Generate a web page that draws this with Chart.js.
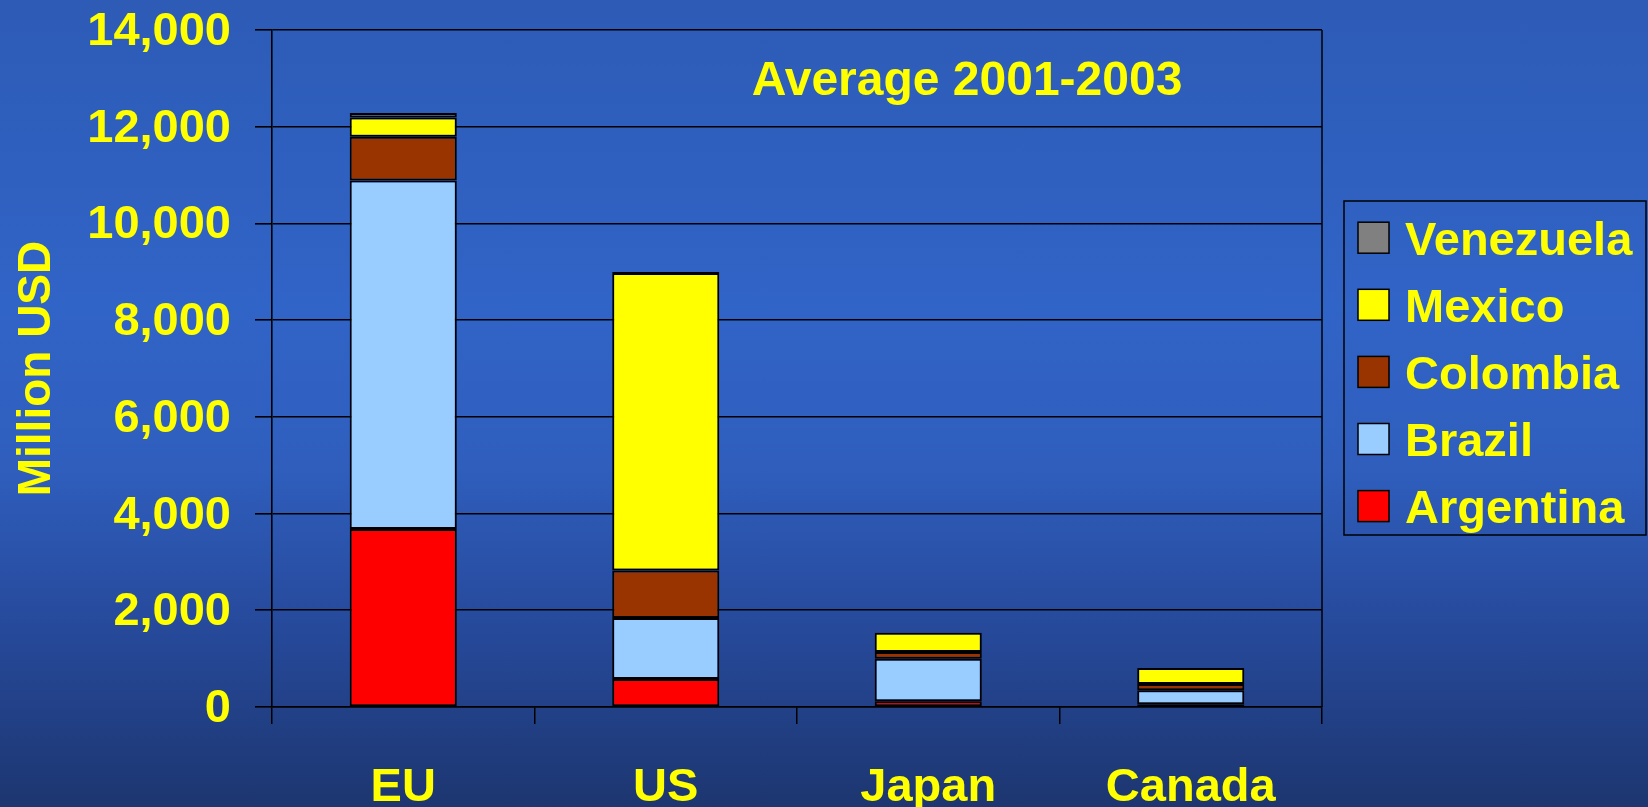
<!DOCTYPE html>
<html><head><meta charset="utf-8">
<script src="https://cdn.jsdelivr.net/npm/chart.js@4"></script>
<style>
html,body{margin:0;padding:0;width:1648px;height:807px;overflow:hidden;
background:linear-gradient(to bottom,#2D5BB6 0%,#3164C7 38%,#2F5EBD 58%,#26499A 78%,#1D3670 100%);}
canvas{display:block}
</style></head><body>
<canvas id="c" width="1648" height="807"></canvas>
<script>
const categories = ['EU', 'US', 'Japan', 'Canada'];
const argentina = [3680, 580, 120, 55];
const brazil = [7210, 1260, 880, 290];
const colombia = [900, 985, 135, 130];
const mexico = [400, 6150, 400, 330];
const venezuela = [95, 20, 0, 0];
const yTicks = [0, 2000, 4000, 6000, 8000, 10000, 12000, 14000];
const seriesNames = ['Argentina', 'Brazil', 'Colombia', 'Mexico', 'Venezuela'];
const seriesColors = ['#FF0000', '#99CCFF', '#993300', '#FFFF00', '#808080'];
const chartNote = 'Average 2001-2003';
const yAxisTitle = 'Million USD';

const FONT = "'Liberation Sans', Arial, sans-serif";
const YELLOW = '#FFFF00';
const seriesValues = [argentina, brazil, colombia, mexico, venezuela];

const datasets = seriesNames.map((name, i) => ({
  label: name,
  data: seriesValues[i],
  backgroundColor: seriesColors[i],
  borderColor: '#000',
  borderWidth: 2,
  borderSkipped: false,
  categoryPercentage: 1,
  barPercentage: 0.408
}));

const extras = {
  id: 'extras',
  beforeDatasetsDraw(chart) {
    const {ctx, chartArea: a} = chart;
    ctx.save();
    ctx.strokeStyle = '#000';
    ctx.lineWidth = 1.5;
    ctx.beginPath();
    ctx.moveTo(a.right, a.top);
    ctx.lineTo(a.right, a.bottom);
    ctx.stroke();
    ctx.restore();
  },
  afterDraw(chart) {
    const {ctx, chartArea: a} = chart;
    ctx.save();
    ctx.font = 'bold 48px ' + FONT;
    ctx.fillStyle = YELLOW;
    ctx.textAlign = 'center';
    ctx.textBaseline = 'alphabetic';
    ctx.fillText(chartNote, a.left + a.width * 0.662, a.top + 65);
    const bx = a.right + 22, by = 201, bw = 302, bh = 334;
    ctx.strokeStyle = '#000';
    ctx.lineWidth = 1.5;
    ctx.strokeRect(bx, by, bw, bh);
    ctx.font = 'bold 47px ' + FONT;
    ctx.textAlign = 'left';
    const ds = chart.data.datasets;
    for (let k = 0; k < ds.length; k++) {
      const d = ds[ds.length - 1 - k];
      const cy = by + 36.7 + k * 67.1;
      ctx.fillStyle = d.backgroundColor;
      ctx.fillRect(bx + 14, cy - 15.5, 31, 31);
      ctx.strokeRect(bx + 14, cy - 15.5, 31, 31);
      ctx.fillStyle = YELLOW;
      ctx.fillText(d.label, bx + 61, cy + 17);
    }
    ctx.restore();
  }
};

new Chart(document.getElementById('c'), {
  type: 'bar',
  data: { labels: categories, datasets },
  options: {
    responsive: false,
    animation: false,
    layout: { padding: { top: 30, right: 326, bottom: 0, left: 0 } },
    plugins: { legend: { display: false }, tooltip: { enabled: false }, title: { display: false } },
    scales: {
      x: {
        stacked: true,
        grid: { display: true, drawOnChartArea: false, drawTicks: true, tickLength: 17, color: '#000', lineWidth: 1.5, offset: true },
        border: { display: true, color: '#000', width: 1.5 },
        ticks: { color: YELLOW, font: { family: FONT, size: 47, weight: 'bold' }, padding: 36, maxRotation: 0 },
        afterFit(s) { s.height = 100; s.paddingLeft = 0; s.paddingRight = 0; }
      },
      y: {
        stacked: true,
        min: 0, max: 14000,
        afterBuildTicks(s) { s.ticks = yTicks.map(v => ({ value: v })); },
        ticks: { color: YELLOW, font: { family: FONT, size: 47, weight: 'bold' }, padding: 24, labelOffset: 2,
          callback: v => Number(v).toLocaleString('en-US') },
        grid: { color: '#000', lineWidth: 1.6, tickLength: 17 },
        border: { display: true, color: '#000', width: 1.6 },
        title: { display: true, text: yAxisTitle, color: YELLOW,
          font: { family: FONT, size: 46, weight: 'bold' }, padding: { top: 10, bottom: 0 } },
        afterFit(s) { s.width = 272; s.paddingTop = 0; s.paddingBottom = 0; }
      }
    }
  },
  plugins: [extras]
});
</script>
</body></html>
